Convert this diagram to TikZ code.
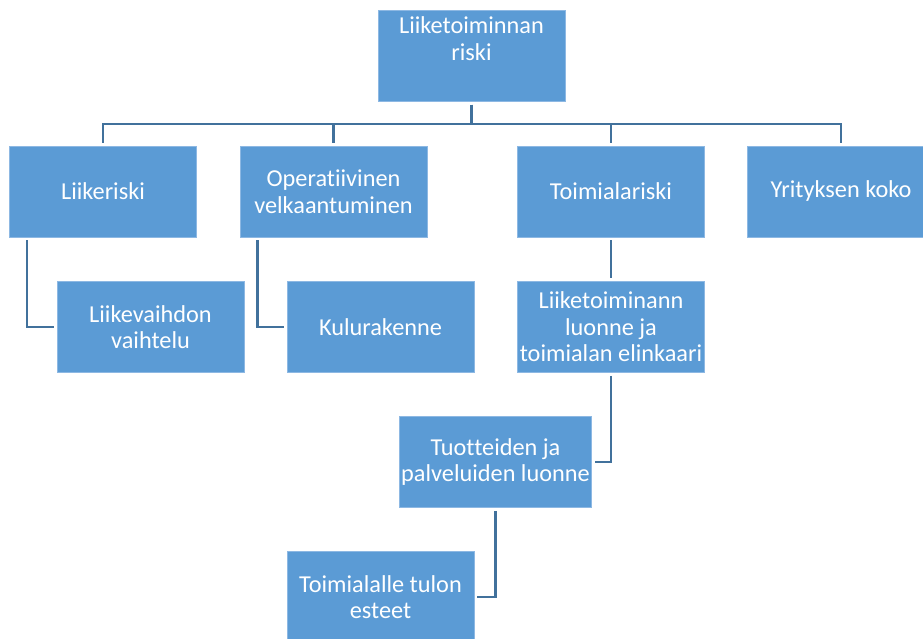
\documentclass[tikz,border=0pt]{standalone}
\usepackage{fontspec}
\setmainfont{Carlito}[Ligatures=NoCommon]
\definecolor{boxblue}{HTML}{5B9BD5}
\definecolor{edgeblue}{HTML}{8DB8E3}
\definecolor{linkblue}{HTML}{41719C}
\begin{document}
\begin{tikzpicture}[x=1pt,y=-1pt,
  box/.style={rectangle, fill=boxblue, draw=edgeblue, line width=0.8pt, text=white,
    minimum width=187pt, minimum height=91pt, align=center, inner sep=2pt,
    font=\fontsize{24.3}{26.5}\selectfont},
  boxtext/.style={text=white, align=center, inner sep=2pt,
    font=\fontsize{24.3}{26.5}\selectfont},
  link/.style={draw=linkblue, line width=2.3pt, shorten <=3pt, shorten >=3pt}]
\useasboundingbox (0,0) rectangle (923,639);
\begin{scope}
\clip (0,0) rectangle (923,639);
\node[box] (top) at (471.5,56) {};
\node[boxtext, anchor=north] (toptext) at ([yshift=-4.5pt]top.north) {Liiketoiminnan\\riski};
\node[box] (b1) at (103,191.5) {Liikeriski};
\node[box] (b2) at (333.5,191.5) {Operatiivinen\\velkaantuminen};
\node[box] (b3) at (611,191.5) {Toimialariski};
\node[box] (b4) at (841,191.5) {Yrityksen koko};
\node[box] (c1) at (150.5,327) {Liikevaihdon\\vaihtelu};
\node[box] (c2) at (380.5,327) {Kulurakenne};
\node[box] (c3) at (611,327) {Liiketoiminann\\luonne ja\\toimialan elinkaari};
\node[box] (d1) at (495.5,462) {Tuotteiden ja\\palveluiden luonne};
\node[box] (e1) at (380.5,597) {Toimialalle tulon\\esteet};
\coordinate (bus) at (0,124);
\end{scope}
\draw[link] (top.south) -- (top.south |- bus) -| (b1.north);
\draw[link] (top.south) -- (top.south |- bus) -| (b2.north);
\draw[link] (top.south) -- (top.south |- bus) -| (b3.north);
\draw[link] (top.south) -- (top.south |- bus) -| (b4.north);
\draw[link] ([xshift=-76pt]b1.south) |- (c1.west);
\draw[link] ([xshift=-76pt]b2.south) |- (c2.west);
\draw[link] (b3.south) -- (c3.north);
\draw[link] (c3.south) |- (d1.east);
\draw[link] (d1.south) |- (e1.east);
\end{tikzpicture}
\end{document}
